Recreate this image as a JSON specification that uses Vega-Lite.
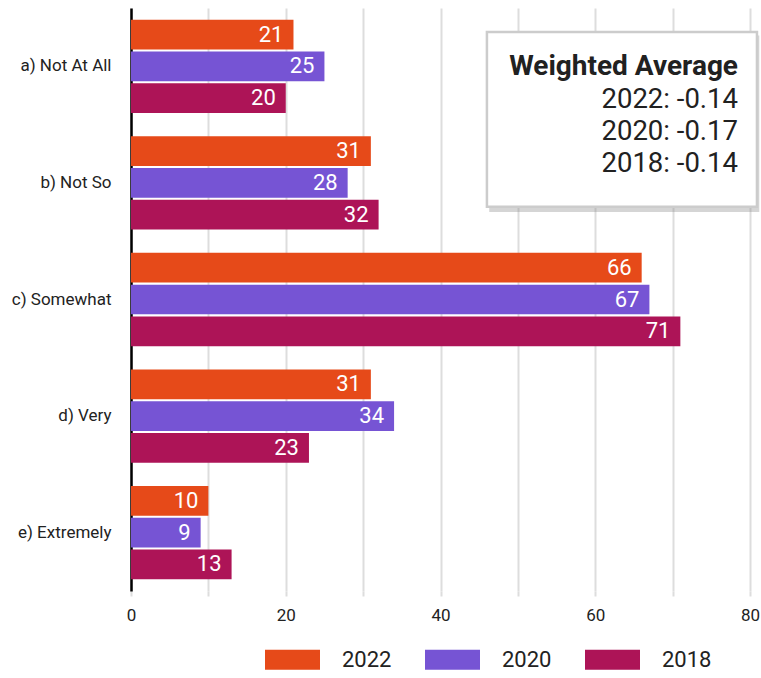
{
  "$schema": "https://vega.github.io/schema/vega-lite/v6.json",
  "width": 619,
  "height": 583,
  "autosize": {"type": "none"},
  "padding": {"left": 131, "top": 8, "right": 11, "bottom": 87},
  "background": "white",
  "config": {"view": {"stroke": null}, "font": "Roboto"},
  "layer": [
    {
      "data": {
        "values": [
          {"cat": "a) Not At All", "year": "2022", "v": 21},
          {"cat": "a) Not At All", "year": "2020", "v": 25},
          {"cat": "a) Not At All", "year": "2018", "v": 20},
          {"cat": "b) Not So", "year": "2022", "v": 31},
          {"cat": "b) Not So", "year": "2020", "v": 28},
          {"cat": "b) Not So", "year": "2018", "v": 32},
          {"cat": "c) Somewhat", "year": "2022", "v": 66},
          {"cat": "c) Somewhat", "year": "2020", "v": 67},
          {"cat": "c) Somewhat", "year": "2018", "v": 71},
          {"cat": "d) Very", "year": "2022", "v": 31},
          {"cat": "d) Very", "year": "2020", "v": 34},
          {"cat": "d) Very", "year": "2018", "v": 23},
          {"cat": "e) Extremely", "year": "2022", "v": 10},
          {"cat": "e) Extremely", "year": "2020", "v": 9},
          {"cat": "e) Extremely", "year": "2018", "v": 13}
        ]
      },
      "encoding": {
        "y": {
          "field": "cat", "type": "nominal",
          "scale": {"paddingInner": 0.2, "paddingOuter": 0.1},
          "axis": {"title": null, "domainColor": "#000000", "domainWidth": 2.5, "ticks": false, "labelPadding": 20, "labelFontSize": 17, "labelColor": "#222222", "grid": false}
        },
        "x": {
          "field": "v", "type": "quantitative",
          "scale": {"domain": [0, 80], "nice": false},
          "axis": {"title": null, "values": [0, 10, 20, 30, 40, 50, 60, 70, 80], "labelExpr": "datum.value % 20 === 0 ? datum.label : ''", "labelFlush": false, "grid": true, "gridColor": "#dddddd", "gridWidth": 2, "domain": false, "ticks": true, "tickColor": "#dddddd", "tickWidth": 2, "tickSize": 5, "labelPadding": 11, "labelFontSize": 17, "labelColor": "#222222"}
        },
        "yOffset": {"field": "year", "type": "nominal", "sort": ["2022", "2020", "2018"], "scale": {"paddingInner": 0.065}}
      },
      "layer": [
        {
          "mark": {"type": "bar"},
          "encoding": {
            "color": {
              "field": "year", "type": "nominal", "sort": ["2022", "2020", "2018"],
              "scale": {"domain": ["2022", "2020", "2018"], "range": ["#E64A19", "#7654D4", "#AD1457"]},
              "legend": {"orient": "none", "legendX": 134, "legendY": 624, "direction": "horizontal", "title": null, "symbolType": "M-1,-0.36L1,-0.36L1,0.36L-1,0.36Z", "symbolSize": 3025, "symbolStrokeWidth": 0, "symbolOpacity": 1, "labelFontSize": 22, "labelOffset": 22, "columnPadding": 33, "labelColor": "#222222", "padding": 0, "gridAlign": "all"}
            }
          }
        },
        {
          "mark": {"type": "text", "align": "right", "dx": -10, "color": "white", "fontSize": 22, "baseline": "middle"},
          "encoding": {"text": {"field": "v", "type": "quantitative"}}
        }
      ]
    },
    {
      "data": {"values": [{"x1": 46.3, "x2": 81.2, "p1": 4.7, "p2": 35.0}]},
      "mark": {"type": "rect", "color": "#888888", "opacity": 0.35},
      "encoding": {
        "x": {"field": "x1", "type": "quantitative"},
        "x2": {"field": "x2"},
        "y": {"field": "p1", "type": "quantitative", "scale": {"domain": [0, 100], "reverse": true, "nice": false}, "axis": null},
        "y2": {"field": "p2"}
      }
    },
    {
      "data": {"values": [{"x1": 46.0, "x2": 80.9, "p1": 4.1, "p2": 34.1}]},
      "mark": {"type": "rect", "fill": "white", "stroke": "#cccccc", "strokeWidth": 2.5},
      "encoding": {
        "x": {"field": "x1", "type": "quantitative"},
        "x2": {"field": "x2"},
        "y": {"field": "p1", "type": "quantitative", "scale": {"domain": [0, 100], "reverse": true, "nice": false}, "axis": null},
        "y2": {"field": "p2"}
      }
    },
    {
      "data": {"values": [{"tx": 78.45, "p": 11.5, "t": "Weighted Average"}]},
      "mark": {"type": "text", "align": "right", "baseline": "alphabetic", "fontSize": 28, "fontWeight": "bold", "color": "#212121"},
      "encoding": {
        "x": {"field": "tx", "type": "quantitative"},
        "y": {"field": "p", "type": "quantitative", "scale": {"domain": [0, 100], "reverse": true, "nice": false}, "axis": null},
        "text": {"field": "t"}
      }
    },
    {
      "data": {"values": [
        {"tx": 78.45, "p": 17.15, "t": "2022: -0.14"},
        {"tx": 78.45, "p": 22.64, "t": "2020: -0.17"},
        {"tx": 78.45, "p": 28.13, "t": "2018: -0.14"}
      ]},
      "mark": {"type": "text", "align": "right", "baseline": "alphabetic", "fontSize": 27.5, "color": "#212121"},
      "encoding": {
        "x": {"field": "tx", "type": "quantitative"},
        "y": {"field": "p", "type": "quantitative", "scale": {"domain": [0, 100], "reverse": true, "nice": false}, "axis": null},
        "text": {"field": "t"}
      }
    }
  ],
  "resolve": {"scale": {"y": "independent"}}
}
